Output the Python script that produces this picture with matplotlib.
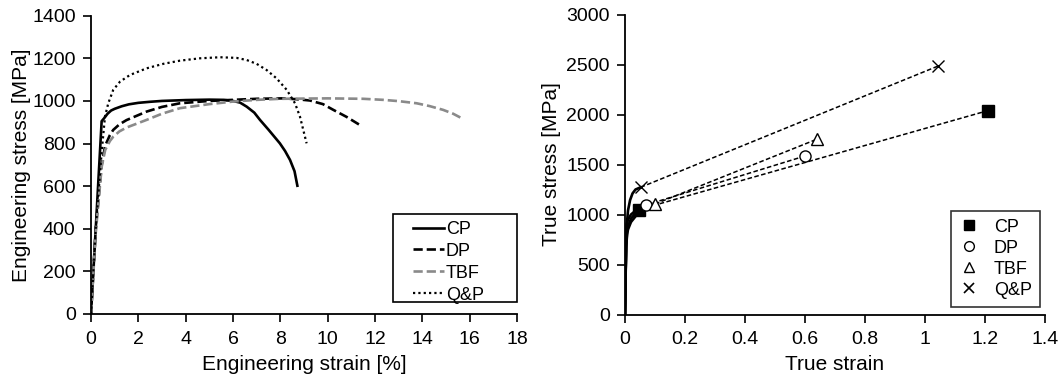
import matplotlib
matplotlib.use("Agg")
import matplotlib.pyplot as plt
from matplotlib.lines import Line2D
from matplotlib.patches import Rectangle

plt.rcParams['font.family'] = ['Liberation Sans', 'DejaVu Sans']

# ---------- Engineering stress-strain data ----------
cp_strain = [0, 0.2, 0.45, 0.55, 0.7, 0.85, 1.0, 1.3, 1.6, 2.0, 2.5, 3.0, 4.0, 5.0, 5.6, 6.0, 6.3,
             6.58, 6.9, 7.14, 7.5, 7.98, 8.2, 8.41, 8.6, 8.72]
cp_stress = [0, 400, 905, 918, 940, 955, 963, 975, 984, 991, 996, 1000, 1004, 1006, 1005, 1000, 992,
             973, 945, 911, 865, 801, 765, 723, 670, 602]

dp_strain = [0, 0.2, 0.45, 0.6, 0.8, 0.94, 1.2, 1.5, 2.35, 3.0, 3.76, 5.0, 6.0, 7.0, 8.1, 8.7, 9.25,
             9.8, 10.24, 10.8, 11.36]
dp_stress = [0, 400, 700, 790, 840, 864, 890, 910, 950, 972, 989, 1000, 1005, 1010, 1012, 1008, 1002,
             985, 958, 925, 887]

tbf_strain = [0, 0.2, 0.45, 0.6, 0.8, 0.94, 1.2, 1.5, 2.35, 3.0, 3.76, 5.0, 6.0, 7.0, 8.0, 10.0, 11.5,
              12.35, 13.0, 13.76, 14.3, 14.88, 15.3, 15.66]
tbf_stress = [0, 380, 690, 770, 812, 832, 857, 875, 911, 940, 966, 985, 997, 1005, 1010, 1012, 1010,
              1005, 999, 989, 976, 958, 940, 919]

qp_strain = [0, 0.2, 0.45, 0.59, 0.73, 0.94, 1.23, 1.65, 2.35, 3.05, 3.76, 4.6, 5.45, 6.15, 6.58, 7.0,
             7.42, 7.84, 8.27, 8.62, 8.83, 9.11]
qp_stress = [0, 400, 760, 926, 989, 1052, 1091, 1122, 1153, 1174, 1189, 1200, 1205, 1202, 1192, 1174,
             1145, 1106, 1052, 989, 926, 801]

# ---------- True stress-strain data ----------
cp_true_strain = [0, 0.002, 0.003, 0.004, 0.006, 0.01, 0.02, 0.03, 0.048]
cp_true_stress = [0, 400, 650, 860, 905, 950, 1000, 1025, 1050]
dp_true_strain = [0, 0.002, 0.004, 0.007, 0.01, 0.02, 0.04, 0.07]
dp_true_stress = [0, 400, 700, 830, 880, 960, 1030, 1095]
tbf_true_strain = [0, 0.002, 0.004, 0.007, 0.01, 0.02, 0.04, 0.07, 0.1]
tbf_true_stress = [0, 380, 680, 800, 850, 925, 1000, 1065, 1105]
qp_true_strain = [0, 0.002, 0.004, 0.006, 0.01, 0.017, 0.025, 0.035, 0.052]
qp_true_stress = [0, 400, 760, 900, 1040, 1145, 1210, 1250, 1272]

# uniform elongation point -> fracture point (extrapolated)
cp_pts_x = [0.048, 1.211]
cp_pts_y = [1050, 2040]
dp_pts_x = [0.07, 0.60]
dp_pts_y = [1095, 1585]
tbf_pts_x = [0.10, 0.639]
tbf_pts_y = [1105, 1752]
qp_pts_x = [0.052, 1.044]
qp_pts_y = [1272, 2485]

labels = ['CP', 'DP', 'TBF', 'Q&P']

fig = plt.figure(figsize=(10.61, 3.79), dpi=100)
W, H = 1061, 379
ax1 = fig.add_axes([91 / W, 1 - 314 / H, (517 - 91) / W, (314 - 15.7) / H])
ax2 = fig.add_axes([625 / W, 1 - 314.5 / H, (1045 - 625) / W, (314.5 - 14.5) / H])

for ax in (ax1, ax2):
    ax.spines['top'].set_visible(False)
    ax.spines['right'].set_visible(False)
    for s in ('left', 'bottom'):
        ax.spines[s].set_linewidth(1.3)
    ax.tick_params(direction='out', length=6, width=1.2, labelsize=14, pad=5)
    ax.tick_params(axis='x', pad=6)

# left plot
ax1.plot(cp_strain, cp_stress, color='black', lw=1.9, ls='-', label=labels[0])
ax1.plot(dp_strain, dp_stress, color='black', lw=1.9, ls=(0, (3.5, 1.5)), label=labels[1])
ax1.plot(tbf_strain, tbf_stress, color='#8a8a8a', lw=1.9, ls=(0, (3.5, 1.5)), label=labels[2])
ax1.plot(qp_strain, qp_stress, color='black', lw=1.6, ls=(0, (1, 1.4)), label=labels[3])
ax1.set_xlim(0, 18)
ax1.set_ylim(0, 1400)
ax1.set_xticks(range(0, 19, 2))
ax1.set_yticks(range(0, 1401, 200))
ax1.set_xlabel('Engineering strain [%]', fontsize=15, labelpad=5)
ax1.set_ylabel('Engineering stress [MPa]', fontsize=15, labelpad=1)

# left legend: Excel-style wide box
ax1.add_patch(Rectangle((0.709, 0.040), 0.291, 0.295, transform=ax1.transAxes,
                        facecolor='white', edgecolor='black', lw=1.2, zorder=5, clip_on=False))
leg1 = ax1.legend(loc='upper left', bbox_to_anchor=(0.756, 0.312), fontsize=13,
                  frameon=False, handlelength=1.7, handletextpad=0.12, labelspacing=0.27,
                  borderpad=0.0, borderaxespad=0.0)
leg1.set_zorder(6)

# right plot
for xs, ys in [(cp_true_strain, cp_true_stress), (dp_true_strain, dp_true_stress),
               (tbf_true_strain, tbf_true_stress), (qp_true_strain, qp_true_stress)]:
    ax2.plot(xs, ys, color='black', lw=1.9)

dash = (0, (3, 1.6))
ax2.plot(cp_pts_x, cp_pts_y, color='black', lw=1.1, ls=dash)
ax2.plot(dp_pts_x, dp_pts_y, color='black', lw=1.1, ls=dash)
ax2.plot(tbf_pts_x, tbf_pts_y, color='black', lw=1.1, ls=dash)
ax2.plot(qp_pts_x, qp_pts_y, color='black', lw=1.1, ls=dash)

ax2.plot(cp_pts_x, cp_pts_y, ls='none', marker='s', ms=8, mfc='black', mec='black')
ax2.plot(dp_pts_x, dp_pts_y, ls='none', marker='o', ms=8, mfc='white', mec='black', mew=1)
ax2.plot(tbf_pts_x, tbf_pts_y, ls='none', marker='^', ms=8, mfc='white', mec='black', mew=1)
ax2.plot(qp_pts_x, qp_pts_y, ls='none', marker='x', ms=8, mec='black', mew=1)

ax2.set_xlim(0, 1.4)
ax2.set_ylim(0, 3000)
ax2.set_xticks([0, 0.2, 0.4, 0.6, 0.8, 1.0, 1.2, 1.4])
ax2.set_xticklabels(['0', '0.2', '0.4', '0.6', '0.8', '1', '1.2', '1.4'])
ax2.set_yticks(range(0, 3001, 500))
ax2.set_xlabel('True strain', fontsize=15, labelpad=5)
ax2.set_ylabel('True stress [MPa]', fontsize=15, labelpad=4)

handles = [Line2D([], [], ls='none', marker='s', ms=7, mfc='black', mec='black'),
           Line2D([], [], ls='none', marker='o', ms=7, mfc='white', mec='black', mew=1),
           Line2D([], [], ls='none', marker='^', ms=7, mfc='white', mec='black', mew=1),
           Line2D([], [], ls='none', marker='x', ms=7, mec='black', mew=1.2)]
leg2 = ax2.legend(handles, labels, loc='lower right', bbox_to_anchor=(0.988, 0.026), fontsize=13,
                  frameon=True, fancybox=False, edgecolor='black', handlelength=1.0,
                  handletextpad=0.9, labelspacing=0.22, borderpad=0.45, borderaxespad=0.0)
leg2.get_frame().set_linewidth(1.2)

fig.savefig('out.png', dpi=100)
